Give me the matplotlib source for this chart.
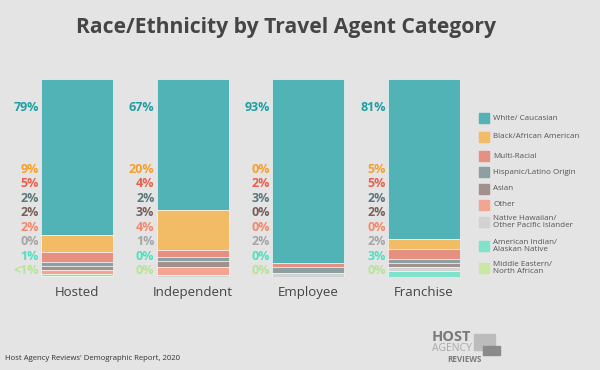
import matplotlib.pyplot as plt
import numpy as np

# data
categories = ["Hosted", "Independent", "Employee", "Franchise"]
groups = ["White/ Caucasian", "Black/African American", "Multi-Racial",
          "Hispanic/Latino Origin", "Asian", "Other",
          "Native Hawaiian/\nOther Pacific Islander",
          "American Indian/\nAlaskan Native", "Middle Eastern/\nNorth African"]
hosted = [79, 9, 5, 2, 2, 2, 0, 1, 0.5]
independent = [67, 20, 4, 2, 3, 4, 1, 0, 0]
employee = [93, 0, 2, 3, 0, 0, 2, 0, 0]
franchise = [81, 5, 5, 2, 2, 0, 2, 3, 0]

bar_colors = ["#52b3b6", "#f2bb66", "#e59080", "#8d9fa0", "#a0918d",
              "#f4a591", "#d2d2d2", "#7fe3cb", "#c9e8a2"]
label_colors = ["#1e9fa2", "#f5a02a", "#e8604a", "#5b777c", "#76605b",
                "#f5876a", "#a5a5a5", "#4fe0bf", "#b4e68e"]

data = np.array([hosted, independent, employee, franchise], dtype=float)
data = data / data.sum(axis=1, keepdims=True) * 100

bg = "#e4e4e4"
fig = plt.figure(figsize=(6, 3.7), dpi=100, facecolor=bg)
ax = fig.add_axes([41 / 600, 93 / 370, 419 / 600, 198 / 370])
ax.set_facecolor("none")

x = np.arange(len(categories))
w = 0.62
for i, cat in enumerate(categories):
    top = 100.0
    for j in range(len(groups)):
        v = data[i, j]
        if v > 0:
            ax.bar(x[i], v, bottom=top - v, width=w, color=bar_colors[j],
                   edgecolor="white", linewidth=0.4)
        top -= v

ax.set_xlim(-0.31, 3.31)
ax.set_ylim(0, 100)
ax.axis("off")

# percentage labels left of each bar
raw = [hosted, independent, employee, franchise]
label_y = [85.4] + [54.5 - 7.32 * k for k in range(8)]
for i in range(len(categories)):
    for j in range(len(groups)):
        v = raw[i][j]
        s = "<1%" if 0 < v < 1 else "%d%%" % v
        ax.text(x[i] - w / 2 - 0.02, label_y[j], s, ha="right", va="center",
                fontsize=9, fontweight="bold", color=label_colors[j],
                family="Open Sans")
    ax.text(x[i], -8, categories[i], ha="center", va="center",
            fontsize=9.5, color="#444444", family="Open Sans")

# legend
leg_y = [118, 137, 156, 172, 189, 205, 222, 246, 268]
for j, g in enumerate(groups):
    yy = 1 - leg_y[j] / 370
    fig.patches.append(plt.Rectangle((479 / 600, yy - 5 / 370), 10 / 600, 10 / 370,
                                     transform=fig.transFigure, color=bar_colors[j]))
    fig.text(493 / 600, yy, g, ha="left", va="center", fontsize=5.8,
             color="#555555", family="Open Sans", linespacing=1.05)

fig.text(286 / 600, 1 - 27 / 370, "Race/Ethnicity by Travel Agent Category",
         ha="center", va="center", fontsize=15.2, fontweight="bold",
         color="#454545", family="Open Sans")
fig.text(5 / 600, 1 - 358 / 370, "Host Agency Reviews' Demographic Report, 2020",
         ha="left", va="center", fontsize=5.6, color="#333333", family="Open Sans")

# logo
fig.patches.append(plt.Rectangle((474 / 600, 1 - 350 / 370), 21 / 600, 16 / 370,
                                 transform=fig.transFigure, color="#bcbcbc"))
fig.patches.append(plt.Rectangle((483 / 600, 1 - 355 / 370), 17 / 600, 9 / 370,
                                 transform=fig.transFigure, color="#8a8a8a"))
fig.text(432 / 600, 1 - 337 / 370, "HOST", ha="left", va="center", fontsize=10.5,
         fontweight="bold", color="#7a7a7a", family="Open Sans")
fig.text(432 / 600, 1 - 348.5 / 370, "AGENCY", ha="left", va="center", fontsize=7.5,
         color="#a8a8a8", family="Open Sans")
fig.text(447 / 600, 1 - 360 / 370, "REVIEWS", ha="left", va="center", fontsize=5.8,
         fontweight="bold", color="#7a7a7a", family="Open Sans")

fig.savefig("out.png", dpi=100, facecolor=bg)
